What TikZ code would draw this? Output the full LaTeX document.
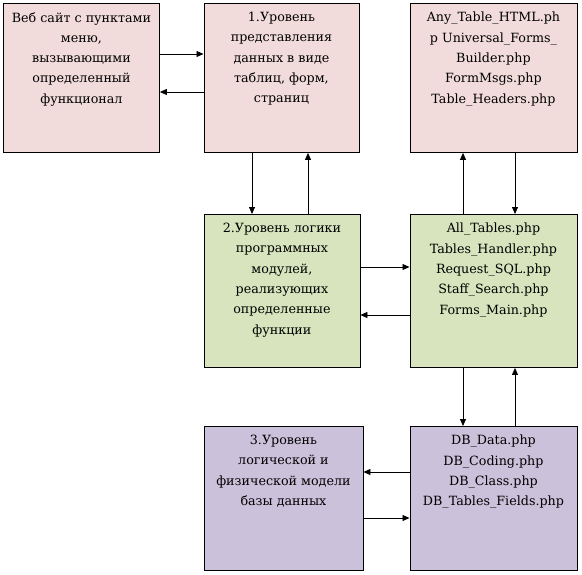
\documentclass[tikz,border=0pt]{standalone}
\usepackage{fontspec}
\setmainfont{DejaVu Serif}
\usetikzlibrary{arrows.meta}
\definecolor{pinkbox}{RGB}{242,220,219}
\definecolor{greenbox}{RGB}{215,228,189}
\definecolor{purplebox}{RGB}{204,193,218}
\tikzset{
  box/.style={draw=black, line width=0.9pt, rectangle, inner sep=0pt, anchor=north west},
  txt/.style={anchor=north, align=center, inner sep=0pt, font=\fontsize{12.7}{20.3}\selectfont},
  arr/.style={line width=0.8pt, -{Triangle[length=7pt,width=6pt]}}
}
\begin{document}
\begin{tikzpicture}[x=1pt,y=-1pt]
\useasboundingbox (0,0) rectangle (582,574);
% boxes
\node[box, fill=pinkbox, minimum width=156pt, minimum height=149pt] (A) at (3,3) {};
\node[box, fill=pinkbox, minimum width=155pt, minimum height=149pt] (B) at (203.5,3) {};
\node[box, fill=pinkbox, minimum width=167pt, minimum height=149pt] (C) at (409.5,3) {};
\node[box, fill=greenbox, minimum width=156pt, minimum height=153pt] (D) at (203.5,214) {};
\node[box, fill=greenbox, minimum width=167pt, minimum height=153pt] (E) at (409.5,214) {};
\node[box, fill=purplebox, minimum width=159pt, minimum height=144pt] (F) at (203.5,426) {};
\node[box, fill=purplebox, minimum width=167pt, minimum height=144pt] (G) at (409.5,426) {};
% texts
\node[txt] (At) at ([yshift=-9pt]A.north) {Веб сайт с пунктами\\меню,\\вызывающими\\определенный\\функционал};
\node[txt] (Bt) at ([yshift=-9pt]B.north) {1.Уровень\\представления\\данных в виде\\таблиц, форм,\\страниц};
\node[txt] (Ct) at ([yshift=-9pt]C.north) {Any\_Table\_HTML.ph\\p Universal\_Forms\_\\Builder.php\\FormMsgs.php\\Table\_Headers.php};
\node[txt] (Dt) at ([yshift=-9pt]D.north) {2.Уровень логики\\программных\\модулей,\\реализующих\\определенные\\функции};
\node[txt] (Et) at ([yshift=-9pt]E.north) {All\_Tables.php\\Tables\_Handler.php\\Request\_SQL.php\\Staff\_Search.php\\Forms\_Main.php};
\node[txt] (Ft) at ([yshift=-9pt]F.north) {3.Уровень\\логической и\\физической модели\\базы данных};
\node[txt] (Gt) at ([yshift=-9pt]G.north) {DB\_Data.php\\DB\_Coding.php\\DB\_Class.php\\DB\_Tables\_Fields.php};
% connectors
\draw[arr] (A.east |- 0,54) -- (B.west |- 0,54);
\draw[arr] (B.west |- 0,92) -- (A.east |- 0,92);
\draw[arr] (B.south -| 252,0) -- (D.north -| 252,0);
\draw[arr] (D.north -| 308,0) -- (B.south -| 308,0);
\draw[arr] (E.north -| 463,0) -- (C.south -| 463,0);
\draw[arr] (C.south -| 515,0) -- (E.north -| 515,0);
\draw[arr] (D.east |- 0,267) -- (E.west |- 0,267);
\draw[arr] (E.west |- 0,315) -- (D.east |- 0,315);
\draw[arr] (E.south -| 463,0) -- (G.north -| 463,0);
\draw[arr] (G.north -| 515,0) -- (E.south -| 515,0);
\draw[arr] (G.west |- 0,472) -- (F.east |- 0,472);
\draw[arr] (F.east |- 0,518) -- (G.west |- 0,518);
\end{tikzpicture}
\end{document}
